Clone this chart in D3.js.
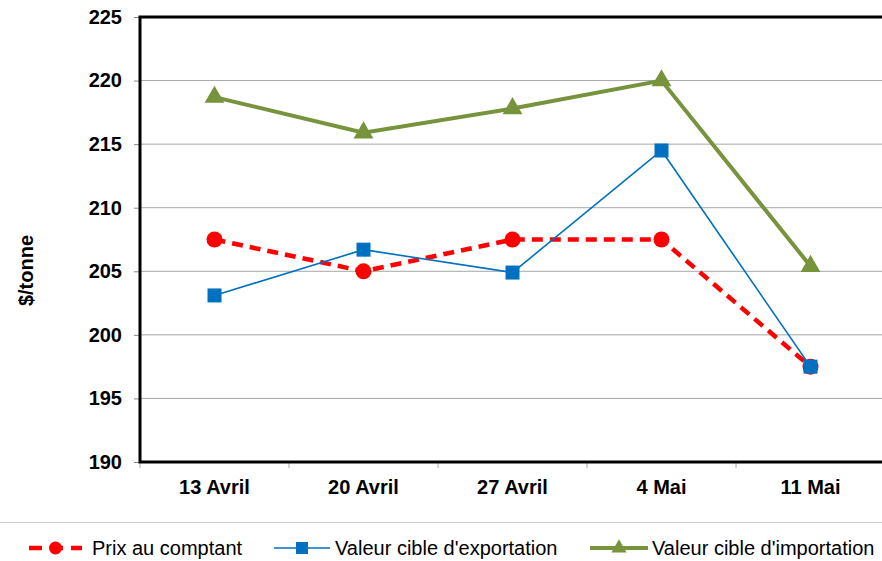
<!DOCTYPE html>
<html>
<head>
<meta charset="utf-8">
<script src="https://cdn.jsdelivr.net/npm/d3@7"></script>
<style>
  body { margin: 0; background: #fff; }
  text { font-family: "Liberation Sans", Arial, sans-serif; }
</style>
</head>
<body>
<div id="chart"></div>
<script>
var categories = ["13 Avril", "20 Avril", "27 Avril", "4 Mai", "11 Mai"];
var prixComptant = [207.5, 205.0, 207.5, 207.5, 197.5];
var cibleExport = [203.1, 206.7, 204.9, 214.5, 197.5];
var cibleImport = [218.7, 215.9, 217.8, 220.0, 205.4];
var yTicks = [190, 195, 200, 205, 210, 215, 220, 225];

var width = 882, height = 561;
var margin = { top: 17, right: -3, bottom: 99, left: 140 };
var w = width - margin.left - margin.right,
    h = height - margin.top - margin.bottom;

var svg = d3.select("#chart").append("svg")
  .attr("width", width)
  .attr("height", height);

var g = svg.append("g")
  .attr("transform", "translate(" + margin.left + "," + margin.top + ")");

var x = d3.scaleBand().domain(categories).range([0, w]);
var y = d3.scaleLinear().domain([190, 225]).range([h, 0]);

// gridlines
g.selectAll(".grid")
  .data(yTicks.slice(1, -1))
  .enter().append("line")
  .attr("x1", 0).attr("x2", w)
  .attr("y1", function(d) { return y(d); })
  .attr("y2", function(d) { return y(d); })
  .attr("stroke", "#a6a6a6")
  .attr("stroke-width", 1);

// Y axis
var yAxis = g.append("g")
  .call(d3.axisLeft(y).tickValues(yTicks).tickSize(6).tickPadding(12));
yAxis.select(".domain").remove();
yAxis.selectAll(".tick line").attr("stroke", "#888");
yAxis.selectAll(".tick text")
  .attr("font-size", 20).attr("font-weight", "bold").attr("fill", "#000");

// X axis
var xAxis = g.append("g")
  .attr("transform", "translate(0," + h + ")")
  .call(d3.axisBottom(x).tickSize(0).tickPadding(18));
xAxis.select(".domain").remove();
xAxis.selectAll(".tick text")
  .attr("font-size", 20).attr("font-weight", "bold").attr("fill", "#000");
g.selectAll(".xtick")
  .data(d3.range(categories.length + 1))
  .enter().append("line")
  .attr("x1", function(i) { return i * x.step(); })
  .attr("x2", function(i) { return i * x.step(); })
  .attr("y1", h).attr("y2", h + 6)
  .attr("stroke", "#aaa");

// frame: left, bottom, top
g.append("path")
  .attr("d", "M" + w + ",0H0V" + h + "H" + w)
  .attr("fill", "none")
  .attr("stroke", "#000")
  .attr("stroke-width", 3);

// Y title
svg.append("text")
  .attr("transform", "translate(33," + (margin.top + h / 2 + 31) + ") rotate(-90)")
  .attr("text-anchor", "middle")
  .attr("font-size", 20).attr("font-weight", "bold")
  .text("$/tonne");

var line = d3.line()
  .x(function(d, i) { return x(categories[i]) + x.bandwidth() / 2; })
  .y(function(d) { return y(d); });

// Import (green)
g.append("path").datum(cibleImport)
  .attr("d", line).attr("fill", "none")
  .attr("stroke", "#77933c").attr("stroke-width", 4);
g.selectAll(".tri").data(cibleImport).enter().append("path")
  .attr("transform", function(d, i) {
    return "translate(" + (x(categories[i]) + x.bandwidth() / 2) + "," + y(d) + ")";
  })
  .attr("d", d3.symbol().type(d3.symbolTriangle).size(170))
  .attr("fill", "#77933c");

// Prix (red dashed)
g.append("path").datum(prixComptant)
  .attr("d", line).attr("fill", "none")
  .attr("stroke", "#ff0000").attr("stroke-width", 4.5)
  .attr("stroke-dasharray", "11,7");
g.selectAll(".dot").data(prixComptant).enter().append("circle")
  .attr("cx", function(d, i) { return x(categories[i]) + x.bandwidth() / 2; })
  .attr("cy", function(d) { return y(d); })
  .attr("r", 8)
  .attr("fill", "#ff0000");

// Export (blue)
g.append("path").datum(cibleExport)
  .attr("d", line).attr("fill", "none")
  .attr("stroke", "#0070c0").attr("stroke-width", 1.6);
g.selectAll(".sq").data(cibleExport).enter().append("rect")
  .attr("x", function(d, i) { return x(categories[i]) + x.bandwidth() / 2 - 7; })
  .attr("y", function(d) { return y(d) - 7; })
  .attr("width", 14).attr("height", 14)
  .attr("fill", "#0070c0");

// legend separator
svg.append("line")
  .attr("x1", 0).attr("x2", width)
  .attr("y1", 522.5).attr("y2", 522.5)
  .attr("stroke", "#d0d0d0").attr("stroke-width", 1);

var legend = [
  { name: "Prix au comptant", x0: 29, x1: 82, tx: 92 },
  { name: "Valeur cible d'exportation", x0: 274, x1: 330, tx: 335 },
  { name: "Valeur cible d'importation", x0: 590, x1: 648, tx: 652 }
];
var ly = 548;
var lg = svg.append("g");
lg.append("line").attr("x1", legend[0].x0).attr("x2", legend[0].x1)
  .attr("y1", ly).attr("y2", ly)
  .attr("stroke", "#ff0000").attr("stroke-width", 4.5).attr("stroke-dasharray", "13,8");
lg.append("circle").attr("cx", (legend[0].x0 + legend[0].x1) / 2).attr("cy", ly)
  .attr("r", 6.5).attr("fill", "#ff0000");
lg.append("line").attr("x1", legend[1].x0).attr("x2", legend[1].x1)
  .attr("y1", ly).attr("y2", ly)
  .attr("stroke", "#0070c0").attr("stroke-width", 1.6);
lg.append("rect").attr("x", (legend[1].x0 + legend[1].x1) / 2 - 6).attr("y", ly - 6)
  .attr("width", 12).attr("height", 12).attr("fill", "#0070c0");
lg.append("line").attr("x1", legend[2].x0).attr("x2", legend[2].x1)
  .attr("y1", ly).attr("y2", ly)
  .attr("stroke", "#77933c").attr("stroke-width", 4);
lg.append("path")
  .attr("transform", "translate(" + (legend[2].x0 + legend[2].x1) / 2 + "," + ly + ")")
  .attr("d", d3.symbol().type(d3.symbolTriangle).size(100))
  .attr("fill", "#77933c");
lg.selectAll("text").data(legend).enter().append("text")
  .attr("x", function(d) { return d.tx; })
  .attr("y", ly + 7)
  .attr("font-size", 20)
  .attr("fill", "#000")
  .text(function(d) { return d.name; });
</script>
</body>
</html>
